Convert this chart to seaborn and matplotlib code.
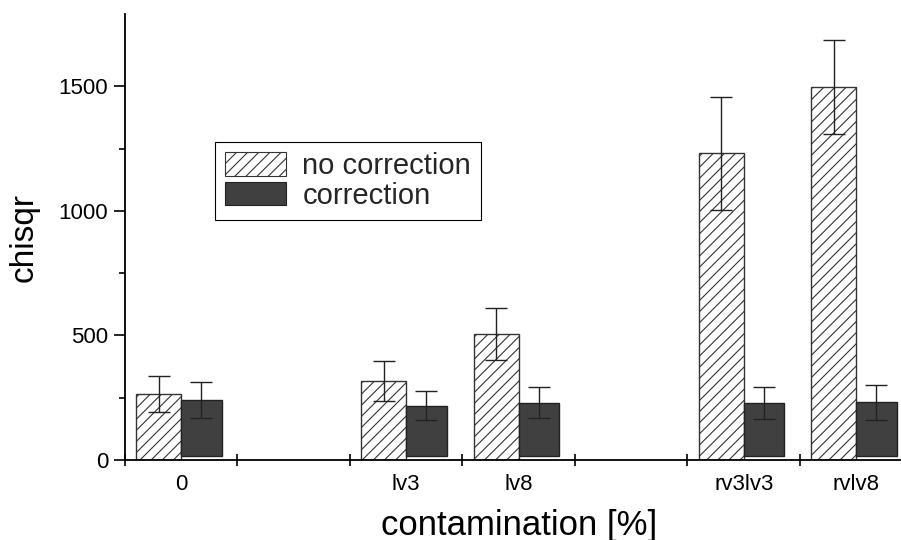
import matplotlib
matplotlib.use("Agg")
import matplotlib.pyplot as plt
from matplotlib.patches import Patch
import seaborn as sns
import pandas as pd
import numpy as np

# ---- data ----
slots = ["0", "gap1", "lv3", "lv8", "gap2", "rv3lv3", "rvlv8"]
slot_labels = ["0", "", "lv3", "lv8", "", "rv3lv3", "rvlv8"]
categories = ["0", "lv3", "lv8", "rv3lv3", "rvlv8"]
no_corr = [264, 318, 506, 1231, 1497]
no_corr_err = [72, 80, 105, 226, 189]
corr = [240, 218, 230, 228, 231]
corr_err = [72, 57, 63, 65, 69]
series = ["no correction", "correction"]

sns.set_theme(style="white")
plt.rcParams["font.family"] = ["Liberation Sans", "DejaVu Sans"]
plt.rcParams["hatch.linewidth"] = 0.8
plt.rcParams["hatch.color"] = "#333333"

df = pd.DataFrame({
    "category": categories * 2,
    "series": [series[0]] * len(categories) + [series[1]] * len(categories),
    "value": no_corr + corr,
})

fig = plt.figure(figsize=(9.01, 5.40), dpi=100)
ax = fig.add_axes([125 / 901, 80 / 540, 787.5 / 901, 446 / 540])

sns.barplot(data=df, x="category", y="value", hue="series", order=slots,
            hue_order=series, palette={series[0]: "white", series[1]: "#404040"},
            width=0.8, errorbar=None, legend=False, ax=ax,
            edgecolor="#333333", linewidth=1.0, saturation=1)

DARK_BASE = 17
hat_bars = ax.containers[0]
dark_bars = ax.containers[1]
for p in hat_bars:
    p.set_hatch("///")
    p.set_facecolor("white")
    p.set_edgecolor("#333333")
for p in dark_bars:
    p.set_width(p.get_width() * 0.9)
    h = p.get_height()
    p.set_y(DARK_BASE)
    p.set_height(h - DARK_BASE)
    p.set_edgecolor("#222222")

hx = [p.get_x() + p.get_width() / 2 for p in hat_bars]
dx = [p.get_x() + p.get_width() / 2 for p in dark_bars]
ax.errorbar(hx, no_corr, yerr=no_corr_err, fmt="none", ecolor="#222222",
            elinewidth=1.0, capsize=8, capthick=1.0, zorder=4)
ax.errorbar(dx, corr, yerr=corr_err, fmt="none", ecolor="#222222",
            elinewidth=1.0, capsize=8, capthick=1.0, zorder=4)

ax.set_xlim(-0.5, 6.5)
ax.set_ylim(0, 1790)
for s in ["top", "right"]:
    ax.spines[s].set_visible(False)
for s in ["left", "bottom"]:
    ax.spines[s].set_color("black")
    ax.spines[s].set_linewidth(1.3)

ax.set_yticks([0, 500, 1000, 1500])
ax.set_yticks([250, 750, 1250], minor=True)
ax.tick_params(axis="y", which="major", direction="out", length=8, width=1.2,
               colors="black", labelsize=16, left=True, pad=4)
ax.tick_params(axis="y", which="minor", direction="out", length=4.5, width=1.2,
               colors="black", left=True)

ax.set_xticks(np.arange(len(slots)))
ax.set_xticklabels(slot_labels)
ax.tick_params(axis="x", which="major", length=0, labelsize=16, pad=10, colors="black")
ax.set_xticks(np.arange(len(slots)) - 0.5, minor=True)
ax.tick_params(axis="x", which="minor", direction="inout", length=8, width=1.2,
               colors="black", bottom=True)

ax.set_xlabel("contamination [%]", fontsize=25, labelpad=10, color="black")
ax.set_ylabel("chisqr", fontsize=24, labelpad=14, color="black")
ax.grid(False)

handles = [Patch(facecolor="white", edgecolor="#333333", hatch="///", linewidth=0.8),
           Patch(facecolor="#404040", edgecolor="#222222", linewidth=0.8)]
leg = ax.legend(handles, series, loc="upper left", bbox_to_anchor=(0.114, 0.713),
                borderaxespad=0, fontsize=21, frameon=True, fancybox=False,
                framealpha=1, edgecolor="black", handlelength=2.1, handleheight=0.85,
                handletextpad=0.55, labelspacing=0.05, borderpad=0.35)
leg.get_frame().set_linewidth(0.8)

fig.savefig("out.png", dpi=100)
